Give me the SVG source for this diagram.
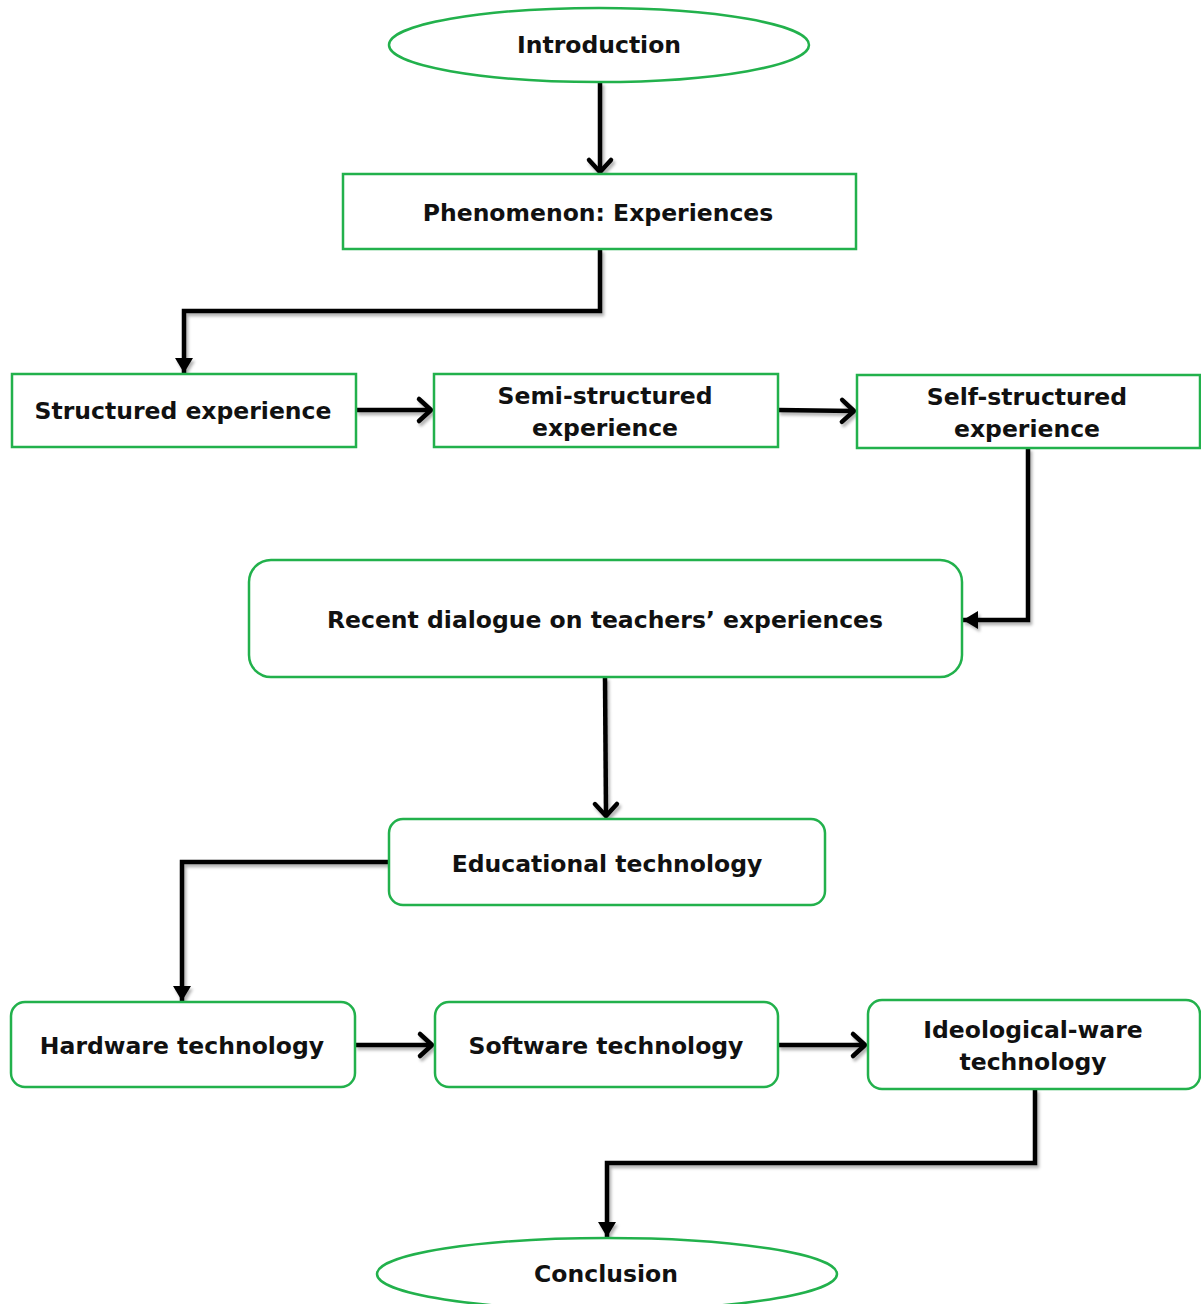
<svg xmlns="http://www.w3.org/2000/svg" width="1201" height="1304" viewBox="0 0 1201 1304">
  <defs>
    <style>
      .box { fill: #ffffff; stroke: #22b14c; stroke-width: 2.5; }
      .lbl { font-family: "DejaVu Sans", "Liberation Sans", sans-serif; font-weight: bold; font-size: 23.5px; fill: #111111; text-anchor: middle; dominant-baseline: central; }
      .wire { fill: none; stroke: #000000; stroke-width: 4.5; stroke-linejoin: miter; }
      .open { marker-end: url(#chevron); }
      .solid { marker-end: url(#tri); }
    </style>
    <marker id="chevron" viewBox="-18 -15 22 30" markerWidth="22" markerHeight="30" refX="0" refY="0" orient="auto" markerUnits="userSpaceOnUse">
      <path d="M -12 -11 L 0 0 L -12 11" fill="none" stroke="#000000" stroke-width="4.5" stroke-linecap="round" stroke-linejoin="round"/>
    </marker>
    <marker id="tri" viewBox="-18 -11 20 22" markerWidth="20" markerHeight="22" refX="0" refY="0" orient="auto" markerUnits="userSpaceOnUse">
      <path d="M -15 -9 L 0 0 L -15 9 Z" fill="#000000"/>
    </marker>
    <filter id="shade" x="-10%" y="-10%" width="130%" height="130%">
      <feDropShadow dx="2" dy="3" stdDeviation="1.5" flood-color="#000000" flood-opacity="0.3"/>
    </filter>
  </defs>

  <rect width="1201" height="1304" fill="#ffffff"/>

  <!-- connectors -->
  <g id="connectors" filter="url(#shade)">
    <path class="wire open" d="M 600 82 L 600 172"/>
    <path class="wire solid" d="M 600 249 L 600 311 L 184 311 L 184 373"/>
    <path class="wire open" d="M 356 410 L 431 410"/>
    <path class="wire open" d="M 778 410 L 854 411"/>
    <path class="wire solid" d="M 1028 448 L 1028 620 L 963 620"/>
    <path class="wire open" d="M 605 677 L 606 816"/>
    <path class="wire solid" d="M 389 862 L 182 862 L 182 1001"/>
    <path class="wire open" d="M 355 1045 L 432 1045"/>
    <path class="wire open" d="M 778 1045 L 865 1045"/>
    <path class="wire solid" d="M 1035 1089 L 1035 1163 L 607 1163 L 607 1237"/>
  </g>

  <!-- nodes -->
  <g id="introduction">
    <ellipse class="box" cx="599" cy="45" rx="210" ry="37"/>
    <text class="lbl" x="599" y="45">Introduction</text>
  </g>
  <g id="phenomenon">
    <rect class="box" x="343" y="174" width="513" height="75"/>
    <text class="lbl" x="598" y="213">Phenomenon: Experiences</text>
  </g>
  <g id="structured">
    <rect class="box" x="12" y="374" width="344" height="73"/>
    <text class="lbl" x="183" y="411">Structured experience</text>
  </g>
  <g id="semi-structured">
    <rect class="box" x="434" y="374" width="344" height="73"/>
    <text class="lbl" x="605" y="396">Semi-structured</text>
    <text class="lbl" x="605" y="428">experience</text>
  </g>
  <g id="self-structured">
    <rect class="box" x="857" y="375" width="343" height="73"/>
    <text class="lbl" x="1027" y="397">Self-structured</text>
    <text class="lbl" x="1027" y="429">experience</text>
  </g>
  <g id="recent-dialogue">
    <rect class="box" x="249" y="560" width="713" height="117" rx="22" ry="22"/>
    <text class="lbl" x="605" y="620">Recent dialogue on teachers’ experiences</text>
  </g>
  <g id="educational">
    <rect class="box" x="389" y="819" width="436" height="86" rx="14" ry="14"/>
    <text class="lbl" x="607" y="864">Educational technology</text>
  </g>
  <g id="hardware">
    <rect class="box" x="11" y="1002" width="344" height="85" rx="14" ry="14"/>
    <text class="lbl" x="182" y="1046">Hardware technology</text>
  </g>
  <g id="software">
    <rect class="box" x="435" y="1002" width="343" height="85" rx="14" ry="14"/>
    <text class="lbl" x="606" y="1046">Software technology</text>
  </g>
  <g id="ideological">
    <rect class="box" x="868" y="1000" width="332" height="89" rx="14" ry="14"/>
    <text class="lbl" x="1033" y="1030">Ideological-ware</text>
    <text class="lbl" x="1033" y="1062">technology</text>
  </g>
  <g id="conclusion">
    <ellipse class="box" cx="607" cy="1274" rx="230" ry="36"/>
    <text class="lbl" x="606" y="1274">Conclusion</text>
  </g>
</svg>
